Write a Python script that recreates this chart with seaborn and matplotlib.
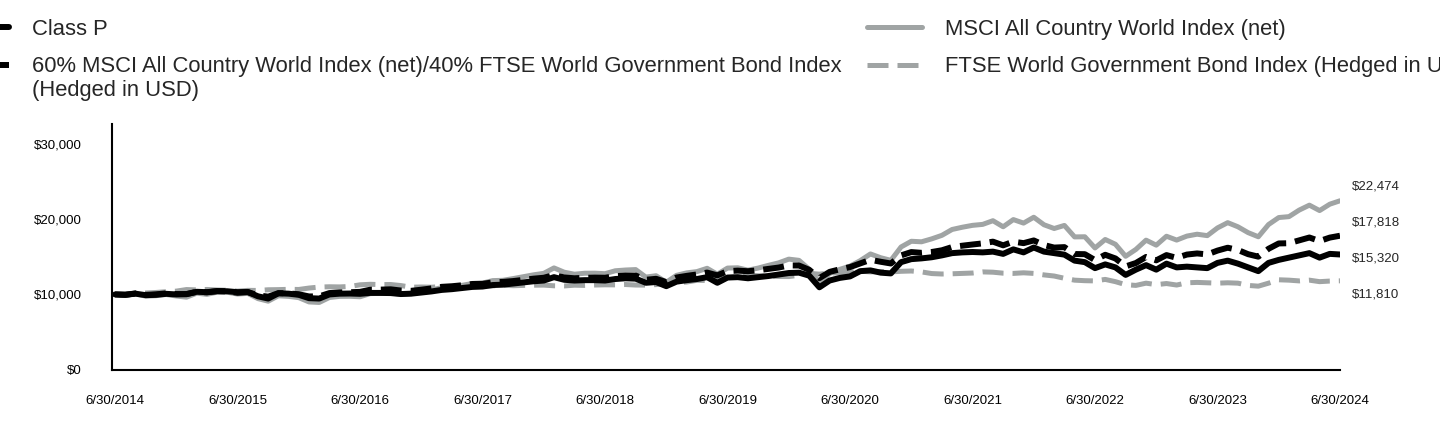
import numpy as np
import pandas as pd
import matplotlib
matplotlib.use("Agg")
import matplotlib.pyplot as plt
import seaborn as sns
from matplotlib.ticker import FuncFormatter

# growth of $10,000, month ends 6/30/2014 .. 6/30/2024
class_p = [10000,
           9950, 10100, 9900, 9950, 10080, 10000, 10050, 10350, 10300, 10450, 10420, 10300,
           10330, 9750, 9450, 10150, 10100, 9950, 9500, 9450, 10000, 10100, 10120, 10080,
           10200, 10200, 10180, 10050, 10100, 10250, 10400, 10600, 10700, 10850, 11000, 11050,
           11250, 11300, 11450, 11600, 11750, 11850, 12300, 11950, 11850, 11900, 11900, 11850,
           12050, 12150, 12100, 11550, 11650, 11100, 11700, 11900, 12050, 12300, 11550, 12250,
           12300, 12150, 12300, 12450, 12650, 12850, 12900, 12500, 10950, 11850, 12200, 12400,
           13100, 13200, 12900, 12800, 14300, 14700, 14800, 14950, 15200, 15500, 15600, 15650,
           15600, 15700, 15400, 16000, 15600, 16250, 15700, 15500, 15300, 14500, 14300, 13500,
           14000, 13600, 12600, 13300, 13900, 13300, 14100, 13600, 13700, 13600, 13500, 14200,
           14500, 14100, 13600, 13100, 14200, 14600, 14900, 15200, 15500, 14900, 15400, 15320]

blend_6040 = [10000,
              9950, 10130, 9940, 10010, 10140, 10050, 10030, 10350, 10280, 10430, 10410, 10220,
              10310, 9880, 9700, 10170, 10140, 10020, 9730, 9740, 10180, 10270, 10290, 10340,
              10630, 10640, 10680, 10520, 10480, 10630, 10800, 11010, 11090, 11220, 11390, 11410,
              11610, 11670, 11780, 11940, 12100, 12220, 12590, 12260, 12150, 12210, 12240, 12220,
              12430, 12520, 12510, 11950, 12080, 11640, 12250, 12470, 12660, 12910, 12540, 13100,
              13170, 13090, 13220, 13400, 13580, 13860, 13850, 13280, 12170, 13000, 13350, 13640,
              14130, 14610, 14350, 14120, 15200, 15640, 15540, 15650, 15880, 16310, 16490, 16650,
              16800, 17030, 16540, 17030, 16830, 17190, 16580, 16240, 16300, 15380, 15360, 14570,
              15280, 14790, 13730, 14180, 14990, 14540, 15240, 14870, 15310, 15460, 15330, 15840,
              16220, 15920, 15360, 15030, 16080, 16790, 16820, 17200, 17580, 17110, 17570, 17818]

msci_acwi = [10000,
             9880, 10090, 9770, 9830, 9990, 9790, 9630, 10170, 10010, 10300, 10290, 10050,
             10140, 9440, 9100, 9820, 9740, 9570, 9000, 8930, 9590, 9740, 9750, 9690,
             10110, 10140, 10200, 10020, 10100, 10330, 10600, 10900, 11030, 11210, 11460, 11510,
             11840, 11880, 12110, 12360, 12610, 12810, 13530, 12960, 12690, 12820, 12830, 12760,
             13150, 13250, 13310, 12310, 12490, 11620, 12540, 12870, 13040, 13480, 12690, 13510,
             13550, 13230, 13510, 13870, 14200, 14700, 14540, 13360, 11560, 12790, 13340, 13770,
             14500, 15390, 14890, 14540, 16320, 17080, 17010, 17400, 17870, 18650, 18950, 19200,
             19330, 19820, 19010, 19970, 19500, 20280, 19280, 18780, 19190, 17660, 17680, 16190,
             17320, 16680, 15080, 15990, 17230, 16560, 17750, 17240, 17770, 18020, 17830, 18860,
             19560, 19010, 18230, 17680, 19310, 20240, 20360, 21230, 21890, 21170, 22020, 22474]

ftse_wgbi = [10000,
             10050, 10180, 10190, 10260, 10360, 10440, 10650, 10600, 10660, 10590, 10550, 10440,
             10540, 10530, 10620, 10640, 10680, 10660, 10850, 10980, 11020, 11000, 11060, 11280,
             11350, 11310, 11320, 11180, 10960, 10990, 10960, 11050, 11040, 11110, 11160, 11130,
             11140, 11230, 11160, 11200, 11230, 11240, 11150, 11130, 11230, 11200, 11250, 11280,
             11270, 11320, 11250, 11240, 11310, 11460, 11600, 11650, 11880, 11860, 12060, 12230,
             12320, 12580, 12500, 12430, 12390, 12380, 12550, 12800, 12700, 12850, 12880, 12950,
             13100, 13000, 13050, 13000, 13080, 13120, 13000, 12780, 12720, 12750, 12800, 12850,
             13000, 12960, 12830, 12800, 12880, 12800, 12600, 12450, 12150, 11900, 11830, 11800,
             12000, 11700, 11300, 11200, 11500, 11300, 11450, 11250, 11550, 11600, 11550, 11500,
             11550, 11500, 11200, 11100, 11500, 11950, 11900, 11800, 11900, 11700, 11780, 11810]

year_labels = ['6/30/2014', '6/30/2015', '6/30/2016', '6/30/2017', '6/30/2018', '6/30/2019',
               '6/30/2020', '6/30/2021', '6/30/2022', '6/30/2023', '6/30/2024']

lbl_p = 'Class P'
lbl_blend = '60% MSCI All Country World Index (net)/40% FTSE World Government Bond Index'
lbl_blend_2 = '(Hedged in USD)'
lbl_acwi = 'MSCI All Country World Index (net)'
lbl_ftse = 'FTSE World Government Bond Index (Hedged in USD)'

GREY = '#A0A4A4'
LEG_FS = 15.8

df = pd.DataFrame({'month': np.arange(len(class_p)), 'p': class_p, 'blend': blend_6040,
                   'acwi': msci_acwi, 'ftse': ftse_wgbi})

sns.set_style('white')
plt.rcParams['font.family'] = ['Liberation Sans', 'DejaVu Sans']

fig = plt.figure(figsize=(14.4, 4.32), dpi=100)
ax = fig.add_axes([112 / 1440, 1 - 369.5 / 432, 1228 / 1440, 245.5 / 432])

sns.lineplot(data=df, x='month', y='acwi', ax=ax, color=GREY, lw=3.6, legend=False, label=lbl_acwi)
sns.lineplot(data=df, x='month', y='ftse', ax=ax, color=GREY, lw=3.6, legend=False,
             label=lbl_ftse, linestyle=(0, (4.2, 1.8)))
sns.lineplot(data=df, x='month', y='blend', ax=ax, color='black', lw=4.3, legend=False,
             label=lbl_blend, linestyle=(0, (3.5, 1.5)))
sns.lineplot(data=df, x='month', y='p', ax=ax, color='black', lw=4.3, legend=False, label=lbl_p)

ax.set_xlim(-0.3, len(class_p) - 1)
ax.set_ylim(0, 32700)
ax.set_xticks(np.arange(0, len(class_p), 12))
ax.set_xticklabels(year_labels)
ax.set_yticks([0, 10000, 20000, 30000])
ax.yaxis.set_major_formatter(FuncFormatter(lambda v, p: f'${v:,.0f}'))
ax.tick_params(length=0, labelsize=9.5, colors='black')
ax.tick_params(axis='x', pad=18.7)
ax.tick_params(axis='y', pad=21.5)
ax.set_xlabel('')
ax.set_ylabel('')
for s in ['top', 'right']:
    ax.spines[s].set_visible(False)
for s in ['left', 'bottom']:
    ax.spines[s].set_color('black')
    ax.spines[s].set_linewidth(1.5)

# end values, stacked at the right
ends = sorted([msci_acwi[-1], blend_6040[-1], class_p[-1], ftse_wgbi[-1]], reverse=True)
for k, v in enumerate(ends):
    ax.text(1.0098, 0.745 - k * 0.147, f'${v:,.0f}', transform=ax.transAxes,
            ha='left', va='center', fontsize=9.5)

lines = {l.get_label(): l for l in ax.get_lines()}
order = [lbl_p, lbl_blend, lbl_acwi, lbl_ftse]
leg = ax.legend([lines[k] for k in order], order, loc='upper left',
                bbox_to_anchor=(-45.5 / 1440, 1 - 19 / 432), bbox_transform=fig.transFigure,
                ncol=2, frameon=False, fontsize=LEG_FS, handlelength=2.5, handletextpad=1.05,
                columnspacing=1.15, labelspacing=0.745, borderpad=0, borderaxespad=0)

ax.annotate(lbl_blend_2, xy=(0, 0), xycoords=leg.get_texts()[1], xytext=(0, -13.4),
            textcoords='offset points', va='baseline', ha='left', fontsize=LEG_FS,
            zorder=6, annotation_clip=False)

fig.canvas.draw()
plt.savefig('out.png', dpi=100)
